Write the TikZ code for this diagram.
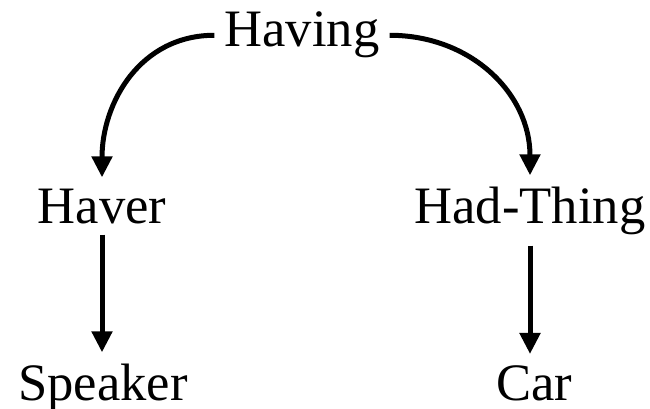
\documentclass[tikz,border=0pt]{standalone}
\usepackage{fontspec}
\setmainfont{Liberation Serif}
\usetikzlibrary{arrows.meta}

\tikzstyle{word} = [inner xsep=10pt, inner ysep=11pt,
    font=\fontsize{52.6}{60}\selectfont]
\tikzstyle{link} = [draw, line width=5pt, -{Triangle[length=21pt,width=20pt]}]

\begin{document}
\begin{tikzpicture}[x=1pt, y=-1pt]
    \useasboundingbox (0,0) rectangle (650,409);
    \node [word, anchor=base] (having) at (302,47) {Having};
    \node [word, anchor=base] (haver) at (102,223) {Haver};
    \node [word, anchor=base] (hadthing) at (530,223) {Had-Thing};
    \node [word, anchor=base] (speaker) at (103,400) {Speaker};
    \node [word, anchor=base] (car) at (534,400) {Car};
    \draw [link] (having.west) to[out=180, in=90, looseness=1.05] (haver.north);
    \draw [link] (having.east) to[out=0, in=90, looseness=1.05] (hadthing.north);
    \draw [link] (haver.south) -- (haver.south |- speaker.north);
    \draw [link] (hadthing.south) -- (hadthing.south |- car.north);
\end{tikzpicture}
\end{document}
